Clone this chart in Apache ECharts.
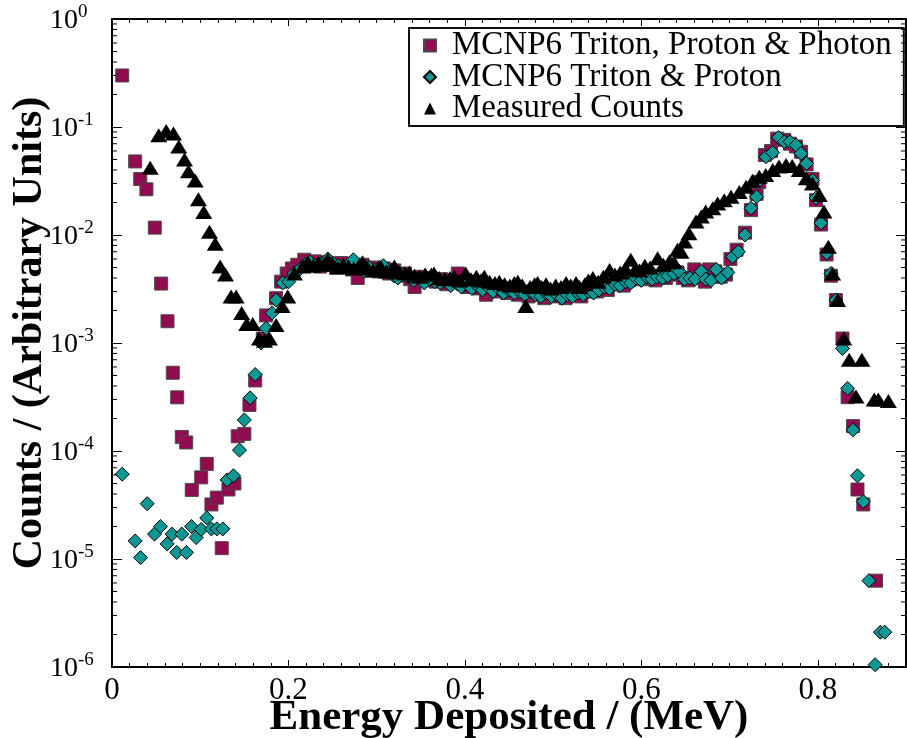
<!DOCTYPE html>
<html>
<head>
<meta charset="utf-8">
<script src="https://cdn.jsdelivr.net/npm/echarts@6/dist/echarts.min.js"></script>
<style>
  html, body { margin: 0; padding: 0; background: #fff; }
  #chart { width: 907px; height: 738px; }
</style>
</head>
<body>
<div id="chart"></div>
<script>
// Pulse-height spectra: energy deposited (MeV) vs. normalised counts.

// MCNP6 Triton, Proton & Photon
var ttpE = [0.0116,0.0263,0.0320,0.0390,0.0485,0.0557,0.0629,0.0689,0.0739,0.0791,0.0841,0.0904,0.1011,0.1074,0.1127,0.1188,0.1244,0.1320,0.1388,0.1425,0.1500,0.1558,0.1623,0.1709,
  0.1747,0.1860,0.1917,0.1980,0.2040,0.2100,0.2180,0.2240,0.2300,0.2360,0.2420,0.2480,0.2540,0.2600,0.2660,0.2720,0.2785,0.2840,0.2900,0.2960,0.3020,0.3080,0.3140,0.3200,0.3260,0.3320,0.3380,0.3430,0.3490,0.3550,0.3610,0.3670,0.3730,0.3790,0.3850,0.3920,0.3980,
  0.4040,0.4100,0.4160,0.4240,0.4300,0.4360,0.4420,0.4480,0.4540,0.4600,0.4660,0.4720,0.4780,0.4840,0.4900,0.4960,0.5020,0.5080,0.5140,0.5200,0.5260,0.5320,0.5380,0.5440,0.5500,0.5560,0.5620,0.5680,0.5740,0.5800,0.5860,0.5920,0.5980,
  0.6040,0.6100,0.6160,0.6220,0.6280,0.6340,0.6410,0.6470,0.6530,0.6600,0.6650,0.6720,0.6770,0.6840,0.6900,0.6960,0.7010,0.7080,0.7175,0.7243,0.7306,0.7337,0.7400,0.7470,0.7540,0.7620,0.7685,0.7753,0.7810,0.7873,0.7940,0.7980,
  0.8036,0.8100,0.8150,0.8206,0.8280,0.8338,0.8400,0.8450,0.8516,0.8660];
var ttpV = [0.30,0.048,0.033,0.0265,0.0117,0.00355,0.00159,5.3e-4,3.14e-4,1.35e-4,1.2e-4,4.36e-5,5.7e-5,7.6e-5,3.2e-5,3.7e-5,1.26e-5,4.4e-5,5.0e-5,1.37e-4,1.44e-4,2.67e-4,4.5e-4,1.1e-3,
  1.8e-3,2.6e-3,3.7e-3,4.4e-3,4.9e-3,5.3e-3,5.9e-3,5.4e-3,5.7e-3,5.1e-3,5.6e-3,5.3e-3,5.0e-3,5.5e-3,5.1e-3,4.8e-3,4.0e-3,5.3e-3,4.7e-3,5.0e-3,4.6e-3,4.9e-3,4.4e-3,4.7e-3,4.2e-3,4.4e-3,3.9e-3,3.3e-3,4.1e-3,3.8e-3,4.0e-3,3.7e-3,3.9e-3,3.5e-3,3.8e-3,4.4e-3,3.5e-3,
  3.3e-3,3.6e-3,3.2e-3,2.8e-3,3.1e-3,3.0e-3,3.2e-3,2.9e-3,3.1e-3,2.8e-3,3.0e-3,2.7e-3,2.9e-3,2.8e-3,2.6e-3,2.8e-3,2.7e-3,2.9e-3,2.6e-3,2.8e-3,2.9e-3,2.7e-3,3.0e-3,3.2e-3,3.0e-3,3.3e-3,3.1e-3,3.5e-3,3.6e-3,3.4e-3,3.8e-3,3.9e-3,4.1e-3,
  3.9e-3,4.0e-3,3.8e-3,4.2e-3,4.0e-3,4.3e-3,4.5e-3,4.0e-3,3.8e-3,4.8e-3,4.0e-3,3.7e-3,4.8e-3,4.6e-3,4.1e-3,4.3e-3,6.0e-3,7.3e-3,0.0105,0.017,0.024,0.031,0.055,0.060,0.078,0.076,0.070,0.066,0.059,0.045,0.033,0.021,
  0.0125,0.0066,0.0042,0.0025,1.1e-3,3.15e-4,1.7e-4,4.4e-5,3.2e-5,6.3e-6];

// MCNP6 Triton & Proton
var tpE = [0.0116,0.0263,0.0323,0.0399,0.0482,0.0550,0.0625,0.0682,0.0734,0.0791,0.0844,0.0901,0.0954,0.1011,0.1074,0.1127,0.1188,0.1256,0.1305,0.1377,0.1445,0.1500,0.1566,0.1623,0.1691,0.1747,0.1815,0.1861,0.1935,0.2003,
  0.2063,0.2125,0.2185,0.2245,0.2305,0.2365,0.2446,0.2505,0.2565,0.2625,0.2685,0.2735,0.2795,0.2855,0.2915,0.2975,0.3035,0.3075,0.3135,0.3195,0.3240,0.3300,0.3360,0.3420,0.3480,0.3540,0.3600,0.3660,0.3720,0.3780,0.3840,0.3900,0.3960,
  0.4020,0.4080,0.4140,0.4200,0.4260,0.4320,0.4380,0.4440,0.4500,0.4560,0.4620,0.4680,0.4740,0.4800,0.4860,0.4920,0.4980,0.5040,0.5100,0.5160,0.5220,0.5280,0.5340,0.5400,0.5460,0.5520,0.5580,0.5640,0.5700,0.5760,0.5820,0.5880,0.5940,
  0.6000,0.6060,0.6120,0.6180,0.6240,0.6300,0.6370,0.6430,0.6490,0.6550,0.6610,0.6680,0.6730,0.6790,0.6850,0.6910,0.6980,0.7035,0.7100,0.7175,0.7243,0.7306,0.7337,0.7413,0.7488,0.7556,0.7620,0.7685,0.7753,0.7810,0.7873,0.7940,0.7980,
  0.8036,0.8100,0.8150,0.8206,0.8280,0.8338,0.8400,0.8450,0.8516,0.8580,0.8650,0.8710,0.8760];
var tpV = [6.1e-5,1.47e-5,1.03e-5,3.25e-5,1.7e-5,2.0e-5,1.38e-5,1.7e-5,1.15e-5,1.7e-5,1.15e-5,2.0e-5,1.58e-5,1.88e-5,2.4e-5,1.9e-5,1.9e-5,1.9e-5,5.4e-5,5.9e-5,1.02e-4,1.94e-4,3.1e-4,5.1e-4,1.0e-3,1.37e-3,1.9e-3,2.5e-3,3.6e-3,3.7e-3,
  4.4e-3,4.8e-3,5.3e-3,5.6e-3,5.2e-3,5.4e-3,6.0e-3,5.5e-3,5.2e-3,5.0e-3,5.4e-3,5.9e-3,4.9e-3,4.6e-3,5.0e-3,4.7e-3,5.0e-3,5.2e-3,4.5e-3,4.2e-3,4.0e-3,4.3e-3,4.1e-3,3.8e-3,4.0e-3,3.6e-3,3.9e-3,3.7e-3,3.6e-3,3.8e-3,3.4e-3,3.6e-3,3.3e-3,
  3.5e-3,3.2e-3,3.4e-3,3.1e-3,3.3e-3,3.0e-3,3.2e-3,2.9e-3,3.1e-3,2.9e-3,3.0e-3,2.8e-3,3.0e-3,2.8e-3,2.7e-3,2.9e-3,2.7e-3,2.8e-3,2.6e-3,2.8e-3,2.7e-3,2.9e-3,2.8e-3,3.0e-3,2.9e-3,3.1e-3,3.3e-3,3.2e-3,3.5e-3,3.4e-3,3.7e-3,3.6e-3,4.0e-3,
  3.8e-3,4.1e-3,3.9e-3,4.1e-3,4.0e-3,4.2e-3,4.4e-3,4.6e-3,3.9e-3,4.0e-3,3.9e-3,4.6e-3,3.9e-3,3.8e-3,4.8e-3,4.0e-3,4.5e-3,6.3e-3,7.0e-3,0.010,0.0177,0.0226,0.032,0.053,0.058,0.080,0.073,0.073,0.068,0.057,0.046,0.032,0.022,
  0.0129,0.0068,0.0044,0.0025,8.9e-4,3.8e-4,1.57e-4,5.9e-5,3.4e-5,6.3e-6,1.05e-6,2.1e-6,2.1e-6];

// Measured Counts
var measE = [0.0433,0.0530,0.0614,0.0697,0.0757,0.0822,0.0867,0.0943,0.0980,0.1040,0.1105,0.1170,0.1226,0.1286,0.1350,0.1407,0.1470,0.1527,0.1595,0.1671,0.1728,0.1785,0.1860,0.1929,0.1992,0.2068,0.2162,
  0.2220,0.2280,0.2340,0.2400,0.2446,0.2500,0.2560,0.2620,0.2680,0.2740,0.2800,0.2840,0.2900,0.2960,0.3020,0.3050,0.3110,0.3170,0.3200,0.3260,0.3320,0.3370,0.3430,0.3490,0.3550,0.3620,0.3650,0.3710,0.3770,0.3830,0.3880,0.3940,
  0.4010,0.4070,0.4130,0.4180,0.4220,0.4280,0.4340,0.4390,0.4450,0.4510,0.4560,0.4600,0.4650,0.4690,0.4740,0.4790,0.4825,0.4870,0.4920,0.4970,0.5030,0.5090,0.5147,0.5200,0.5260,0.5300,0.5360,0.5400,0.5450,0.5510,0.5570,0.5640,0.5700,0.5760,0.5820,0.5880,0.5930,0.5980,
  0.6040,0.6100,0.6185,0.6250,0.6320,0.6370,0.6410,0.6450,0.6490,0.6540,0.6620,0.6680,0.6730,0.6810,0.6865,0.6940,0.7017,0.7110,0.7187,0.7260,0.7337,0.7410,0.7490,0.7560,0.7640,0.7710,0.7790,0.7870,0.7940,
  0.8017,0.8070,0.8120,0.8168,0.8225,0.8295,0.8357,0.8433,0.8500,0.8640,0.8686,0.8800];
var measV = [0.042,0.084,0.092,0.087,0.066,0.050,0.039,0.032,0.0214,0.0163,0.0107,0.0083,0.0051,0.0043,0.0027,0.0027,0.0019,0.0015,0.0015,1.1e-3,1.05e-3,1.1e-3,1.47e-3,2.2e-3,2.7e-3,4.4e-3,5.1e-3,
  5.6e-3,5.2e-3,5.5e-3,5.3e-3,5.9e-3,5.4e-3,5.0e-3,5.3e-3,5.1e-3,4.9e-3,5.2e-3,5.6e-3,4.9e-3,4.7e-3,4.9e-3,5.0e-3,4.6e-3,4.8e-3,5.1e-3,4.5e-3,4.4e-3,4.5e-3,4.2e-3,4.1e-3,4.3e-3,4.3e-3,4.4e-3,4.0e-3,3.9e-3,4.0e-3,4.1e-3,3.8e-3,
  4.4e-3,3.9e-3,4.1e-3,3.8e-3,4.1e-3,3.7e-3,3.6e-3,3.7e-3,3.5e-3,3.4e-3,3.6e-3,3.7e-3,3.4e-3,2.2e-3,3.3e-3,3.5e-3,3.6e-3,3.3e-3,3.5e-3,3.2e-3,3.4e-3,3.3e-3,3.6e-3,3.4e-3,3.6e-3,3.3e-3,3.5e-3,3.8e-3,4.0e-3,3.7e-3,4.1e-3,4.75e-3,4.3e-3,4.5e-3,4.9e-3,5.9e-3,4.8e-3,4.7e-3,
  5.2e-3,5.0e-3,6.1e-3,5.3e-3,5.7e-3,5.6e-3,7.3e-3,7.0e-3,8.7e-3,0.0104,0.0133,0.0148,0.0165,0.0177,0.0196,0.021,0.0226,0.025,0.028,0.0318,0.0347,0.036,0.040,0.043,0.0445,0.0435,0.040,0.0335,0.030,
  0.0235,0.0165,0.0078,0.0044,0.0025,1.1e-3,7.0e-4,3.2e-4,7.0e-4,3.0e-4,3.0e-4,2.9e-4];

// Axis ticks
var xMajorStep = 0.2;
var xMinorStep = 0.02;
var yDecades = [1e-6, 1e-5, 1e-4, 1e-3, 1e-2, 1e-1, 1];
var yMinorMantissas = [2, 3, 4, 5, 6, 7, 8, 9];

function pairs(xs, ys) {
  var out = [];
  for (var i = 0; i < xs.length; i++) out.push([xs[i], ys[i]]);
  return out;
}

var yMinorTicks = [];
for (var d = 0; d < yDecades.length - 1; d++) {
  for (var m = 0; m < yMinorMantissas.length; m++) {
    yMinorTicks.push([0, yDecades[d] * yMinorMantissas[m]]);
  }
}

var SERIF = '"Liberation Serif", "Times New Roman", "DejaVu Serif", serif';
var maroon = '#920a50';
var teal = '#0c9996';

var chart = echarts.init(document.getElementById('chart'), null, { renderer: 'canvas' });

function xAxisDef(position, major, showLabels) {
  return {
    type: 'value',
    position: position,
    min: 0,
    max: 0.9,
    interval: major ? xMajorStep : xMinorStep,
    gridIndex: 0,
    axisLine: { show: major, onZero: false, lineStyle: { color: '#000', width: 2 } },
    axisTick: { show: true, inside: true, length: major ? 7 : 4, lineStyle: { color: '#000', width: 1 } },
    axisLabel: showLabels ? {
      show: true, margin: 8, color: '#000', fontFamily: SERIF, fontSize: 31,
      showMaxLabel: false,
      formatter: function (v) { return (Math.round(v * 10) / 10).toString(); }
    } : { show: false },
    splitLine: { show: false },
    name: showLabels ? 'Energy Deposited / (MeV)' : '',
    nameLocation: 'middle',
    nameGap: 29,
    nameMoveOverlap: false,
    nameTextStyle: { color: '#000', fontFamily: SERIF, fontSize: 43, fontWeight: 'bold' }
  };
}

function yAxisDef(position, showLabels) {
  return {
    type: 'log',
    logBase: 10,
    position: position,
    min: 1e-6,
    max: 1,
    splitNumber: 6,
    gridIndex: 0,
    axisLine: { show: true, onZero: false, lineStyle: { color: '#000', width: 2 } },
    axisTick: { show: true, inside: true, length: 10, lineStyle: { color: '#000', width: 1 } },
    axisLabel: showLabels ? {
      show: true, align: 'left', margin: 62,
      formatter: function (v) {
        return '{b|10}{s|' + Math.round(Math.log10(v)) + '}';
      },
      rich: {
        b: { fontFamily: SERIF, fontSize: 28, color: '#000', lineHeight: 32, verticalAlign: 'bottom' },
        s: { fontFamily: SERIF, fontSize: 19, color: '#000', lineHeight: 19, verticalAlign: 'top' }
      }
    } : { show: false },
    splitLine: { show: false },
    name: showLabels ? 'Counts / (Arbitrary Units)' : '',
    nameLocation: 'middle',
    nameGap: 61,
    nameMoveOverlap: false,
    nameTextStyle: { color: '#000', fontFamily: SERIF, fontSize: 42, fontWeight: 'bold', padding: [0, 0, 0, 20] }
  };
}

var option = {
  backgroundColor: '#fff',
  animation: false,
  grid: { left: 112, right: 1, top: 19, bottom: 71, containLabel: false, outerBoundsMode: 'none' },
  legend: {
    orient: 'vertical',
    left: 409,
    top: 28,
    padding: [1, 12, 1, 14],
    itemGap: -1.5,
    itemWidth: 12,
    itemHeight: 12,
    backgroundColor: '#fff',
    borderColor: '#111',
    borderWidth: 2,
    borderRadius: 0,
    textStyle: { color: '#000', fontFamily: SERIF, fontSize: 33, lineHeight: 31, padding: [0, 0, 0, 11] },
    data: ['MCNP6 Triton, Proton & Photon', 'MCNP6 Triton & Proton', 'Measured Counts']
  },
  xAxis: [
    xAxisDef('bottom', true, true),
    xAxisDef('bottom', false, false),
    xAxisDef('top', true, false),
    xAxisDef('top', false, false)
  ],
  yAxis: [
    yAxisDef('left', true),
    yAxisDef('right', false)
  ],
  series: [
    {
      name: 'MCNP6 Triton, Proton & Photon',
      type: 'scatter',
      xAxisIndex: 0, yAxisIndex: 0,
      symbol: 'rect',
      symbolSize: 13,
      itemStyle: { color: maroon, borderColor: '#4a4a4a', borderWidth: 1, opacity: 1 },
      data: pairs(ttpE, ttpV)
    },
    {
      name: 'MCNP6 Triton & Proton',
      type: 'scatter',
      xAxisIndex: 0, yAxisIndex: 0,
      symbol: 'diamond',
      symbolSize: 14,
      itemStyle: { color: teal, borderColor: '#000', borderWidth: 1, opacity: 1 },
      data: pairs(tpE, tpV)
    },
    {
      name: 'Measured Counts',
      type: 'scatter',
      xAxisIndex: 0, yAxisIndex: 0,
      symbol: 'triangle',
      symbolSize: [17, 14],
      itemStyle: { color: '#000', opacity: 1 },
      data: pairs(measE, measV)
    },
    {
      // minor log ticks on the left and right frame edges
      type: 'custom',
      xAxisIndex: 0, yAxisIndex: 0,
      silent: true,
      z: 5,
      encode: { x: 0, y: 1 },
      data: yMinorTicks,
      renderItem: function (params, api) {
        var p = api.coord([0, api.value(1)]);
        var cs = params.coordSys;
        var len = 5;
        return {
          type: 'group',
          children: [
            { type: 'line', shape: { x1: cs.x, y1: p[1], x2: cs.x + len, y2: p[1] }, style: { stroke: '#000', lineWidth: 1 } },
            { type: 'line', shape: { x1: cs.x + cs.width, y1: p[1], x2: cs.x + cs.width - len, y2: p[1] }, style: { stroke: '#000', lineWidth: 1 } }
          ]
        };
      }
    }
  ]
};

chart.setOption(option);
</script>
</body>
</html>
